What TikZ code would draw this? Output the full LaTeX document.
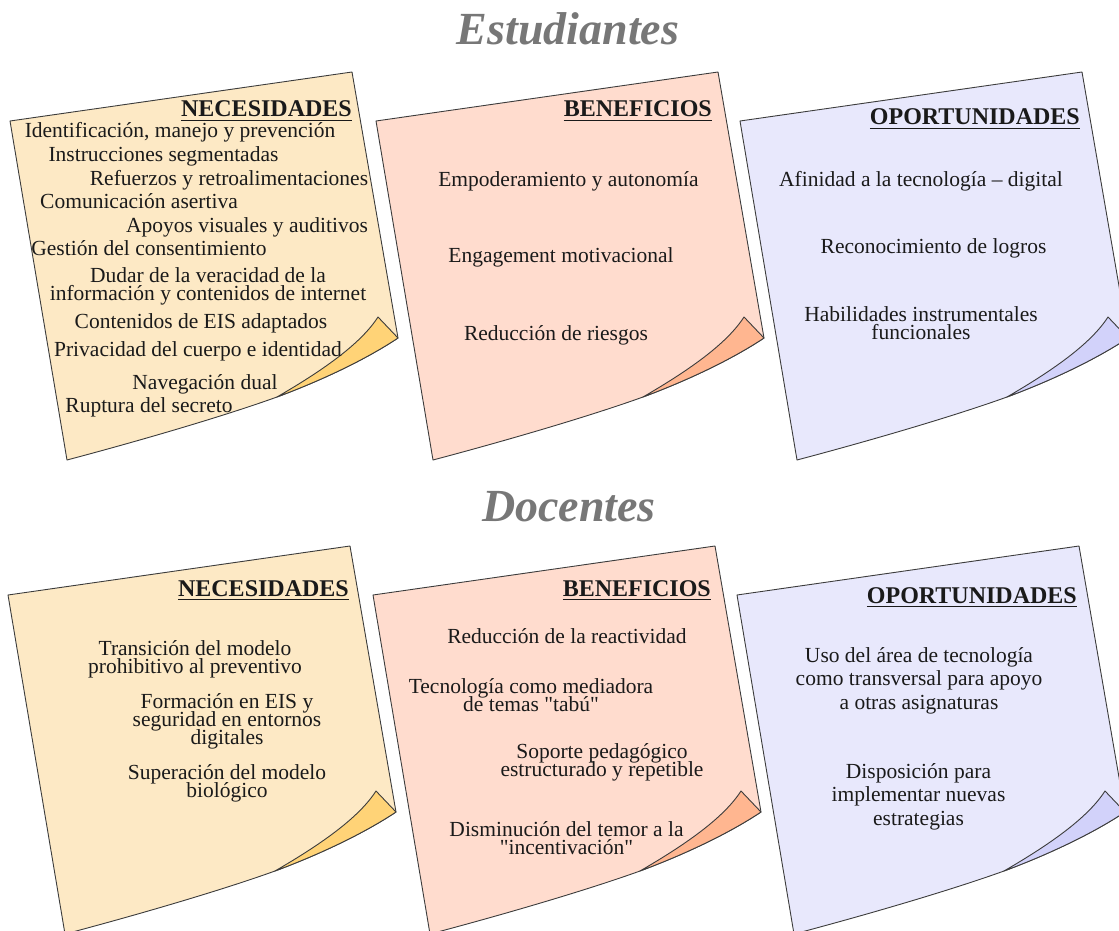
\documentclass[tikz,border=0pt]{standalone}
\usepackage{fontspec}
\setmainfont{Liberation Serif}[Ligatures=TeXOff]
\definecolor{yfill}{HTML}{FDE9C5}
\definecolor{yflap}{HTML}{FFD377}
\definecolor{sfill}{HTML}{FFDCCE}
\definecolor{sflap}{HTML}{FFB690}
\definecolor{bfill}{HTML}{E8E8FC}
\definecolor{bflap}{HTML}{D2D2FA}
\definecolor{edge}{HTML}{3C3C3C}
\definecolor{ink}{HTML}{1A1A1A}
\definecolor{titlegray}{HTML}{777777}
\tikzset{
  sheet/.style={draw=edge, line width=0.9pt, line join=round},
  itm/.style={font={\fontsize{21.5}{18}\selectfont\lineskiplimit=-50pt}, text=ink, inner sep=0pt, align=center, anchor=base},
  itmw/.style={font={\fontsize{21.5}{23.5}\selectfont\lineskiplimit=-50pt}, text=ink, inner sep=0pt, align=center, anchor=base},
  hdr/.style={font={\fontsize{24}{28}\selectfont\bfseries}, text=ink, inner sep=0pt, anchor=base east},
  ttl/.style={font={\fontsize{46}{50}\selectfont\bfseries\itshape}, text=titlegray, inner sep=0pt, anchor=base},
  uline/.style={draw=ink, line width=1.6pt}
}
\newcommand{\stickynote}[3]{%
  \begin{scope}[shift={#1}]
    \path[sheet, fill=#2] (10,121) -- (352,72) -- (398,338)
      .. controls (365,360) and (320,381) .. (277,397)
      .. controls (230,414) and (150,438) .. (67,460) -- cycle;
    \path[sheet, fill=#3] (378,317) -- (398,338)
      .. controls (365,360) and (320,381) .. (277,397)
      .. controls (320,372) and (360,345) .. (378,317) -- cycle;
  \end{scope}}
\begin{document}
\begin{tikzpicture}[x=1pt,y=-1pt]
\useasboundingbox (0,0) rectangle (1119,931);
\clip (0,0) rectangle (1119,931);

% sheets
\stickynote{(0,0)}{yfill}{yflap}
\stickynote{(366,0)}{sfill}{sflap}
\stickynote{(730,0)}{bfill}{bflap}
\stickynote{(-2,474)}{yfill}{yflap}
\stickynote{(363,474)}{sfill}{sflap}
\stickynote{(727,474)}{bfill}{bflap}

% titles
\node[ttl] (t1) at (568,45) {Estudiantes};
\node[ttl] (t2) at (569,521) {Docentes};

% headers
\node[hdr] (hA) at (352,117) {NECESIDADES};
\node[hdr] (hB) at (712,117) {BENEFICIOS};
\node[hdr] (hC) at (1080,125) {OPORTUNIDADES};
\node[hdr] (hD) at (349,596) {NECESIDADES};
\node[hdr] (hE) at (711,596) {BENEFICIOS};
\node[hdr] (hF) at (1077,603) {OPORTUNIDADES};
\foreach \h in {hA,hB,hC,hD,hE,hF}
  \draw[uline] ([yshift=-3.5pt]\h.base west) -- ([yshift=-3.5pt]\h.base east);

% Estudiantes - necesidades
\node[itm] (a1) at (180,138) {Identificación, manejo y prevención};
\node[itm] (a2) at (163.5,161) {Instrucciones segmentadas};
\node[itm] (a3) at (229,185) {Refuerzos y retroalimentaciones};
\node[itm] (a4) at (139,208) {Comunicación asertiva};
\node[itm] (a5) at (247,232) {Apoyos visuales y auditivos};
\node[itm] (a6) at (149,255) {Gestión del consentimiento};
\node[itm] (a7) at (208,300) {Dudar de la veracidad de la\\información y contenidos de internet};
\node[itm] (a8) at (201,328) {Contenidos de EIS adaptados};
\node[itm] (a9) at (198,356) {Privacidad del cuerpo e identidad};
\node[itm] (a10) at (205,389) {Navegación dual};
\node[itm] (a11) at (149,412) {Ruptura del secreto};

% Estudiantes - beneficios
\node[itm] (b1) at (568.5,186) {Empoderamiento y autonomía};
\node[itm] (b2) at (561,262) {Engagement motivacional};
\node[itm] (b3) at (556,340) {Reducción de riesgos};

% Estudiantes - oportunidades
\node[itm] (c1) at (921,186) {Afinidad a la tecnología – digital};
\node[itm] (c2) at (933.5,253) {Reconocimiento de logros};
\node[itm] (c3) at (921,339) {Habilidades instrumentales\\funcionales};

% Docentes - necesidades
\node[itm] (d1) at (195,673) {Transición del modelo\\prohibitivo al preventivo};
\node[itm] (d2) at (227,744) {Formación en EIS y\\seguridad en entornos\\digitales};
\node[itm] (d3) at (227,797) {Superación del modelo\\biológico};

% Docentes - beneficios
\node[itm] (e1) at (567,643) {Reducción de la reactividad};
\node[itm] (e2) at (531,711) {Tecnología como mediadora\\de temas "tabú"};
\node[itm] (e3) at (602,776) {Soporte pedagógico\\estructurado y repetible};
\node[itm] (e4) at (566.5,854) {Disminución del temor a la\\"incentivación"};

% Docentes - oportunidades
\node[itmw] (f1) at (919,709) {Uso del área de tecnología\\como transversal para apoyo\\a otras asignaturas};
\node[itmw] (f2) at (918.5,825) {Disposición para\\implementar nuevas\\estrategias};
\end{tikzpicture}
\end{document}
